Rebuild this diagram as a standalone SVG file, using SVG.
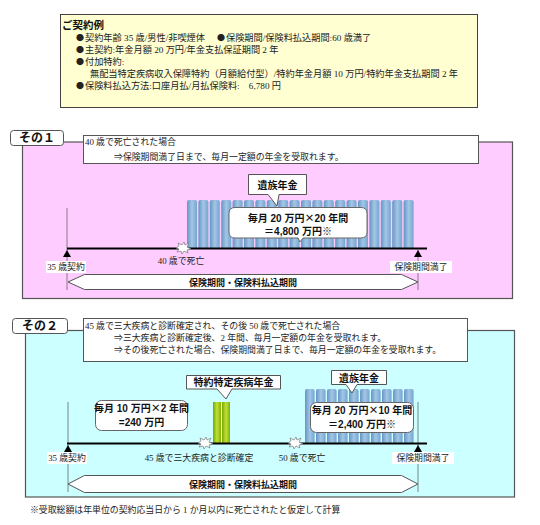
<svg xmlns="http://www.w3.org/2000/svg" width="540" height="525" viewBox="0 0 540 525">
<style>
.t{font-family:"Liberation Serif","Noto Sans CJK JP",serif;font-size:8.9px;fill:#222}
.tt{font-family:"Liberation Serif","Noto Sans CJK JP",serif;font-size:9.2px;fill:#222}
.bu{font-family:"Noto Sans CJK JP",sans-serif;font-size:8px;fill:#222}
.c{font-family:"Noto Sans CJK JP",sans-serif}
.b{font-family:"Liberation Sans","Noto Sans CJK JP",sans-serif;font-weight:bold;fill:#111}
.box{fill:#fff;stroke:#555;stroke-width:1}
.rbox{fill:#fff;stroke:#666;stroke-width:1}
.lbl{fill:#fff}
.vl{stroke:#666;stroke-width:0.8}
.tl{stroke:#000;stroke-width:2}
.bang{fill:#fff;stroke:#777;stroke-width:0.7}
</style>
<defs>
<linearGradient id="gb" x1="0" y1="0" x2="1" y2="0">
<stop offset="0" stop-color="#6596c4"/><stop offset="0.5" stop-color="#a3c6e6"/><stop offset="1" stop-color="#76a5cf"/>
</linearGradient>
<linearGradient id="gg" x1="0" y1="0" x2="1" y2="0">
<stop offset="0" stop-color="#77a600"/><stop offset="0.5" stop-color="#bfe23a"/><stop offset="1" stop-color="#82b000"/>
</linearGradient>
<path id="burst" d="M-7,0 L-4,-2 L-5,-5 L-1,-3 L1,-6 L2,-3 L6,-5 L4,-1 L8,1 L4,2 L5,5 L1,3 L-1,6 L-2,3 L-6,4 L-4,1 Z"/>
<path id="barB" d="M0,2 Q0,0 2,0 L8,0 Q10,0 10,2 L10,48 L0,48 Z"/>
</defs>

<g id="contract">
<rect x="60.5" y="14.5" width="417" height="93" fill="#ffffd2" stroke="#444" stroke-width="1"/>
<text class="b" x="62" y="29" font-size="10.5">ご契約例</text>
<text class="bu" x="76" y="41">●</text>
<text class="tt" x="85" y="41">契約年齢 35 歳/男性/非喫煙体</text>
<text class="bu" x="217" y="41">●</text>
<text class="tt" x="226" y="41">保険期間/保険料払込期間:60 歳満了</text>
<text class="bu" x="76" y="53">●</text>
<text class="tt" x="85" y="53">主契約:年金月額 20 万円/年金支払保証期間 2 年</text>
<text class="bu" x="76" y="65">●</text>
<text class="tt" x="85" y="65">付加特約:</text>
<text class="tt" x="90" y="77">無配当特定疾病収入保障特約（月額給付型）/特約年金月額 10 万円/特約年金支払期間 2 年</text>
<text class="bu" x="76" y="89">●</text>
<text class="tt" x="85" y="89">保険料払込方法:口座月払/月払保険料:　6,780 円</text>
</g>

<g id="case1">
<rect x="22.5" y="142" width="490" height="156.5" fill="#ffccff" stroke="#555" stroke-width="1.2"/>
<rect x="10.5" y="130.5" width="53" height="15" rx="3" fill="#fff" stroke="#555" stroke-width="1"/>
<text class="b" x="37" y="142" font-size="12" text-anchor="middle">その１</text>
<rect class="box" x="83.5" y="135.5" width="395" height="28"/>
<text class="t" x="85" y="145">40 歳で死亡された場合</text>
<text class="t" x="114" y="160"><tspan class="c">⇒</tspan>保険期間満了日まで、毎月一定額の年金を受取れます。</text>
</g>

<g id="bars1">
<use href="#barB" fill="url(#gb)" x="187" y="200"/><use href="#barB" fill="url(#gb)" x="198.4" y="200"/><use href="#barB" fill="url(#gb)" x="209.8" y="200"/><use href="#barB" fill="url(#gb)" x="221.2" y="200"/><use href="#barB" fill="url(#gb)" x="232.6" y="200"/><use href="#barB" fill="url(#gb)" x="244" y="200"/><use href="#barB" fill="url(#gb)" x="255.4" y="200"/><use href="#barB" fill="url(#gb)" x="266.8" y="200"/><use href="#barB" fill="url(#gb)" x="278.2" y="200"/><use href="#barB" fill="url(#gb)" x="289.6" y="200"/><use href="#barB" fill="url(#gb)" x="301" y="200"/><use href="#barB" fill="url(#gb)" x="312.4" y="200"/><use href="#barB" fill="url(#gb)" x="323.8" y="200"/><use href="#barB" fill="url(#gb)" x="335.2" y="200"/><use href="#barB" fill="url(#gb)" x="346.6" y="200"/><use href="#barB" fill="url(#gb)" x="358" y="200"/><use href="#barB" fill="url(#gb)" x="369.4" y="200"/><use href="#barB" fill="url(#gb)" x="380.8" y="200"/><use href="#barB" fill="url(#gb)" x="392.2" y="200"/><use href="#barB" fill="url(#gb)" x="403.6" y="200"/>
</g>

<g id="callout1">
<path class="box" d="M248.5,174.5 H306.5 V194.5 H279 L277,206 L268,194.5 H248.5 Z"/>
<text class="b" x="277.5" y="188.5" font-size="10" text-anchor="middle">遺族年金</text>
</g>

<g id="amount1">
<path class="rbox" d="M235,207.5 H361 Q367,207.5 367,213.5 V232 Q367,238 361,238 H303 L300,242 L298,238 H235 Q229,238 229,232 V213.5 Q229,207.5 235,207.5 Z"/>
<text class="b" x="298" y="222" font-size="10" text-anchor="middle">毎月 20 万円<tspan class="c">×</tspan>20 年間</text>
<text class="b" x="298" y="235" font-size="10" text-anchor="middle">＝4,800 万円※</text>
</g>

<g id="timeline1">
<line class="vl" x1="67" y1="208" x2="67" y2="290"/>
<line class="vl" x1="418" y1="250" x2="418" y2="290"/>
<line class="tl" x1="67" y1="248.5" x2="427" y2="248.5"/>
<polygon points="67,250 63,257 71,257" fill="#000"/>
<polygon points="418,250 414,257 422,257" fill="#000"/>
<use href="#burst" class="bang" x="183" y="248"/>
<rect class="lbl" x="46" y="261" width="40" height="12"/>
<text class="t" x="66" y="270" text-anchor="middle">35 歳契約</text>
<text class="t" x="181" y="264" text-anchor="middle">40 歳で死亡</text>
<rect class="lbl" x="390" y="261" width="62" height="12"/>
<text class="t" x="421" y="270" text-anchor="middle">保険期間満了</text>
<polygon class="box" points="68,282 84.5,274.5 401.5,274.5 418,282 401.5,289.5 84.5,289.5"/>
<text class="b" x="243" y="285.5" font-size="9" text-anchor="middle">保険期間・保険料払込期間</text>
</g>

<g id="case2">
<rect x="25.5" y="330.5" width="489" height="166.5" fill="#ccffff" stroke="#555" stroke-width="1.2"/>
<rect x="12.5" y="318.5" width="55" height="15" rx="3" fill="#fff" stroke="#555" stroke-width="1"/>
<text class="b" x="40" y="330" font-size="12" text-anchor="middle">その２</text>
<rect class="box" x="83.5" y="318.5" width="384" height="43"/>
<text class="t" x="85" y="329">45 歳で三大疾病と診断確定され、その後 50 歳で死亡された場合</text>
<text class="t" x="114" y="341"><tspan class="c">⇒</tspan>三大疾病と診断確定後、2 年間、毎月一定額の年金を受取れます。</text>
<text class="t" x="114" y="353"><tspan class="c">⇒</tspan>その後死亡された場合、保険期間満了日まで、毎月一定額の年金を受取れます。</text>
</g>

<g id="greenbars">
<rect x="213" y="402" width="8" height="41" fill="url(#gg)"/>
<rect x="222" y="402" width="8" height="41" fill="url(#gg)"/>
</g>

<g id="callout2a">
<path class="box" d="M186.5,375.5 H280.5 V389 H232 L226,399 L217,389 H186.5 Z"/>
<text class="b" x="233.5" y="386" font-size="10" text-anchor="middle">特約特定疾病年金</text>
</g>

<g id="amount2a">
<rect class="rbox" x="95.5" y="400.5" width="92" height="30" rx="6"/>
<text class="b" x="141.5" y="412" font-size="10" text-anchor="middle">毎月 10 万円<tspan class="c">×</tspan>2 年間</text>
<text class="b" x="141.5" y="426" font-size="10" text-anchor="middle">=240 万円</text>
</g>

<g id="bars2">
<use href="#barB" fill="url(#gb)" transform="translate(305,389) scale(0.96,1.125)"/><use href="#barB" fill="url(#gb)" transform="translate(316,389) scale(0.96,1.125)"/><use href="#barB" fill="url(#gb)" transform="translate(327,389) scale(0.96,1.125)"/><use href="#barB" fill="url(#gb)" transform="translate(338,389) scale(0.96,1.125)"/><use href="#barB" fill="url(#gb)" transform="translate(349,389) scale(0.96,1.125)"/><use href="#barB" fill="url(#gb)" transform="translate(360,389) scale(0.96,1.125)"/><use href="#barB" fill="url(#gb)" transform="translate(371,389) scale(0.96,1.125)"/><use href="#barB" fill="url(#gb)" transform="translate(382,389) scale(0.96,1.125)"/><use href="#barB" fill="url(#gb)" transform="translate(393,389) scale(0.96,1.125)"/><use href="#barB" fill="url(#gb)" transform="translate(404,389) scale(0.96,1.125)"/>
</g>

<g id="callout2b">
<path class="box" d="M331.5,370.5 H386.5 V384.5 H357 L352,393 L346,384.5 H331.5 Z"/>
<text class="b" x="359" y="381.5" font-size="10" text-anchor="middle">遺族年金</text>
</g>

<g id="amount2b">
<rect class="rbox" x="310.5" y="402.5" width="103" height="30" rx="6"/>
<text class="b" x="362" y="414" font-size="10" text-anchor="middle">毎月 20 万円<tspan class="c">×</tspan>10 年間</text>
<text class="b" x="362" y="428" font-size="10" text-anchor="middle">＝2,400 万円※</text>
</g>

<g id="timeline2">
<line class="vl" x1="68" y1="402" x2="68" y2="492"/>
<line class="vl" x1="418" y1="402" x2="418" y2="492"/>
<line class="tl" x1="67" y1="443.5" x2="427" y2="443.5"/>
<polygon points="68,445 64,452 72,452" fill="#000"/>
<polygon points="418,445 414,452 422,452" fill="#000"/>
<use href="#burst" class="bang" x="205" y="443"/>
<use href="#burst" class="bang" x="295" y="443"/>
<rect class="lbl" x="47" y="452" width="40" height="12"/>
<text class="t" x="67" y="461" text-anchor="middle">35 歳契約</text>
<text class="t" x="199" y="461" text-anchor="middle">45 歳で三大疾病と診断確定</text>
<text class="t" x="302" y="461" text-anchor="middle">50 歳で死亡</text>
<rect class="lbl" x="392" y="452" width="62" height="12"/>
<text class="t" x="423" y="461" text-anchor="middle">保険期間満了</text>
<polygon class="box" points="68,484 84.5,475.5 401.5,475.5 418,484 401.5,492.5 84.5,492.5"/>
<text class="b" x="243" y="487.5" font-size="9" text-anchor="middle">保険期間・保険料払込期間</text>
</g>

<text class="t" x="30" y="513" font-size="9.3">※受取総額は年単位の契約応当日から 1 か月以内に死亡されたと仮定して計算</text>
</svg>
